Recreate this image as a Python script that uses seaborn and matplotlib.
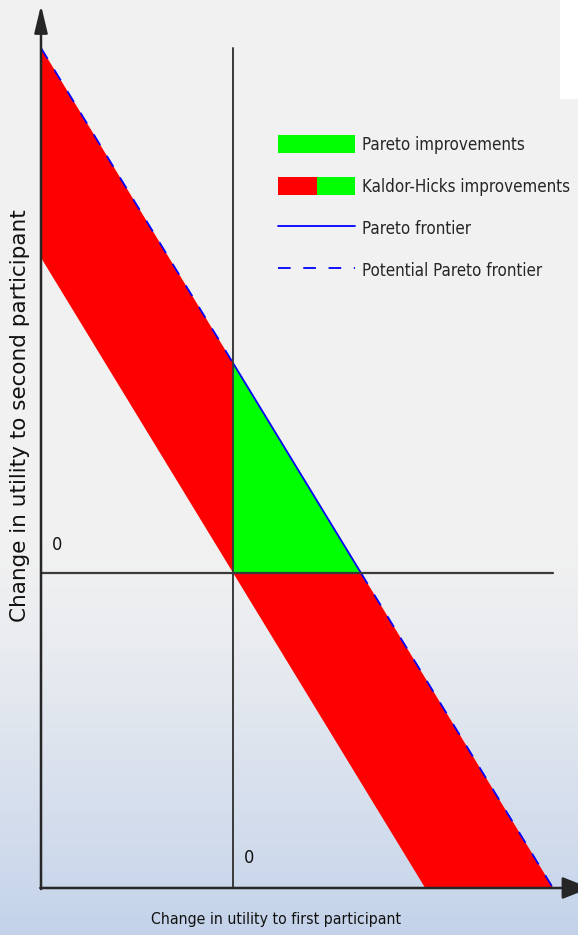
import numpy as np
import seaborn as sns
import matplotlib.pyplot as plt
from matplotlib.patches import Patch, Rectangle
from matplotlib.lines import Line2D
from matplotlib.legend_handler import HandlerTuple

# Kaldor-Hicks band (between potential Pareto frontier and the line through the origin)
band_x = [-3, 3, 5]
band_upper = [5, -1, -3]
band_lower = [3, -3, -3]

# Pareto improvements (first quadrant triangle)
pareto_x = [0, 2]
pareto_y = [2, 0]

# potential Pareto frontier (dashed parts)
frontier_left_x = [-3, 0]
frontier_left_y = [5, 2]
frontier_right_x = [2, 5]
frontier_right_y = [0, -3]

legend_labels = ["Pareto improvements", "Kaldor-Hicks improvements",
                 "Pareto frontier", "Potential Pareto frontier"]

sns.set_style("white")
plt.rcParams['font.family'] = ['DejaVu Sans']

W, H = 578, 935
fig = plt.figure(figsize=(W / 100, H / 100), dpi=100)

# background gradient
bg = fig.add_axes([0, 0, 1, 1], zorder=-1)
t = np.clip((np.arange(H) - 540) / (H - 540), 0, 1) ** 1.3
top = np.array([241, 241, 241]) / 255
bot = np.array([195, 210, 234]) / 255
grad = top[None, :] * (1 - t[:, None]) + bot[None, :] * t[:, None]
bg.imshow(grad[:, None, :], aspect='auto', extent=[0, 1, 0, 1])
bg.axis('off')
fig.patches.append(Rectangle((560 / W, 1 - 99 / H), 18 / W, 99 / H, transform=fig.transFigure,
                             facecolor='white', edgecolor='none', zorder=-0.5))

ax = fig.add_axes([0, 0, 1, 1])
ax.patch.set_alpha(0)
ax.set_xlim((0 - 233) / 64, (W - 233) / 64)
ax.set_ylim((573 - H) / 105, 573 / 105)
ax.axis('off')

ax.fill_between(band_x, band_lower, band_upper, color='#ff0000', lw=0, zorder=1)
ax.fill_between(pareto_x, [0, 0], pareto_y, color='#00ff00', lw=0, zorder=2)

dash = (0, (7, 7))
sns.lineplot(x=pareto_x, y=pareto_y, ax=ax, color='#0000ff', lw=1.3, zorder=3)
sns.lineplot(x=frontier_left_x, y=frontier_left_y, ax=ax, color='#0000ff', lw=1.3,
             linestyle=dash, zorder=3)
sns.lineplot(x=frontier_right_x, y=frontier_right_y, ax=ax, color='#0000ff', lw=1.3,
             linestyle=dash, zorder=3)

# zero lines
ax.plot([0, 0], [-3, 5], color='#3a3a3a', lw=1.4, zorder=4)
ax.plot([-3, 5], [0, 0], color='#3a3a3a', lw=1.6, zorder=4)

# axes with arrows
ymax = ax.get_ylim()[1]
arrow_y = dict(arrowstyle='-|>,head_length=0.83,head_width=0.2', color='#262626', lw=1.8,
               mutation_scale=20, shrinkA=0, shrinkB=0)
arrow_x = dict(arrowstyle='-|>,head_length=0.86,head_width=0.34', color='#262626', lw=1.8,
               mutation_scale=20, shrinkA=0, shrinkB=0)
ax.annotate('', xy=(-3, ymax - 0.05), xytext=(-3, -3.01), arrowprops=arrow_y, zorder=5,
            annotation_clip=False)
ax.annotate('', xy=(5.58, -3), xytext=(-3.01, -3), arrowprops=arrow_x, zorder=5,
            annotation_clip=False)

ax.text(-2.75, 0.27, '0', fontsize=13, fontstretch='condensed', ha='center', va='center',
        color='#111111')
ax.text(0.25, -2.71, '0', fontsize=13, fontstretch='condensed', ha='center', va='center',
        color='#111111')

ax.text(0.67, -3.30, 'Change in utility to first participant', fontsize=11.3,
        fontstretch='condensed', ha='center', va='center', color='#111111')
ax.text(-3.33, 1.50, 'Change in utility to second participant', fontsize=15.5,
        rotation=90, ha='center', va='center', color='#111111')

red = Patch(facecolor='#ff0000', edgecolor='none')
green = Patch(facecolor='#00ff00', edgecolor='none')
handles = [green, (red, green),
           Line2D([], [], color='#0000ff', lw=1.3),
           Line2D([], [], color='#0000ff', lw=1.3, linestyle=dash)]
fs = 12.2
pxf = fs * 100 / 72
ax.legend(handles, legend_labels, handler_map={tuple: HandlerTuple(ndivide=None, pad=0)},
          loc='upper left', bbox_to_anchor=(278 / W, 1 - 135 / H), bbox_transform=fig.transFigure,
          frameon=False, prop={'size': fs, 'stretch': 'condensed'},
          handlelength=77 / pxf, handleheight=22 / pxf, handletextpad=7 / pxf,
          labelspacing=1.36, borderpad=0, borderaxespad=0)

fig.savefig('out.png', dpi=100)
